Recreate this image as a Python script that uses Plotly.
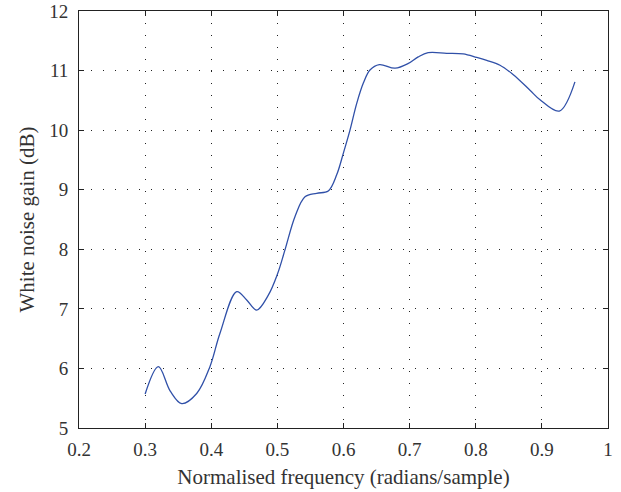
import plotly.graph_objects as go

# White noise gain versus normalised frequency
freq = [0.300, 0.320, 0.338, 0.3553, 0.378, 0.398, 0.4132, 0.4385,
        0.4536, 0.4687, 0.4863, 0.500, 0.5115, 0.5267, 0.5418, 0.5594, 0.577, 0.5897,
        0.5997, 0.6098, 0.620, 0.630, 0.640, 0.6542, 0.678, 0.698, 0.713, 0.728, 0.756,
        0.781, 0.8014, 0.8166, 0.8367, 0.8568, 0.882, 0.8972, 0.9264, 0.950]
gain = [5.57, 6.03, 5.62, 5.41, 5.58, 6.03, 6.59, 7.29,
        7.15, 6.98, 7.23, 7.58, 7.99, 8.55, 8.88, 8.94, 8.98, 9.25,
        9.61, 10.00, 10.45, 10.79, 11.01, 11.10, 11.04, 11.12, 11.23, 11.30, 11.29,
        11.28, 11.22, 11.17, 11.09, 10.93, 10.67, 10.51, 10.32, 10.81]

x_ticks = [0.2, 0.3, 0.4, 0.5, 0.6, 0.7, 0.8, 0.9, 1.0]
x_tick_labels = ["0.2", "0.3", "0.4", "0.5", "0.6", "0.7", "0.8", "0.9", "1"]
y_ticks = [5, 6, 7, 8, 9, 10, 11, 12]

font_family = "Liberation Serif"
text_color = "#333333"

fig = go.Figure()
fig.add_trace(go.Scatter(
    x=freq, y=gain, mode="lines",
    line=dict(color="#3050a8", width=1.3, shape="spline", smoothing=1.0),
    showlegend=False,
))

axis_common = dict(
    showline=True, linecolor="#222222", linewidth=1, mirror="ticks",
    ticks="inside", ticklen=5, tickcolor="#222222",
    showgrid=True, gridcolor="#222222", gridwidth=1, griddash="1px,11px",
    zeroline=False, automargin=False,
    tickfont=dict(family=font_family, size=19, color=text_color),
)

fig.update_xaxes(
    range=[0.2, 1.0], tickvals=x_ticks, ticktext=x_tick_labels,
    ticklabelstandoff=4,
    title=dict(text="Normalised frequency (radians/sample)",
               font=dict(family=font_family, size=21, color=text_color), standoff=10),
    **axis_common,
)
fig.update_yaxes(
    range=[5, 12], tickvals=y_ticks,
    ticklabelstandoff=6,
    title=dict(text="White noise gain (dB)",
               font=dict(family=font_family, size=21, color=text_color), standoff=8),
    **axis_common,
)

fig.update_layout(
    width=621, height=492,
    margin=dict(l=79, r=13, t=11, b=64),
    paper_bgcolor="white", plot_bgcolor="white",
)

fig.write_html("out.html")
